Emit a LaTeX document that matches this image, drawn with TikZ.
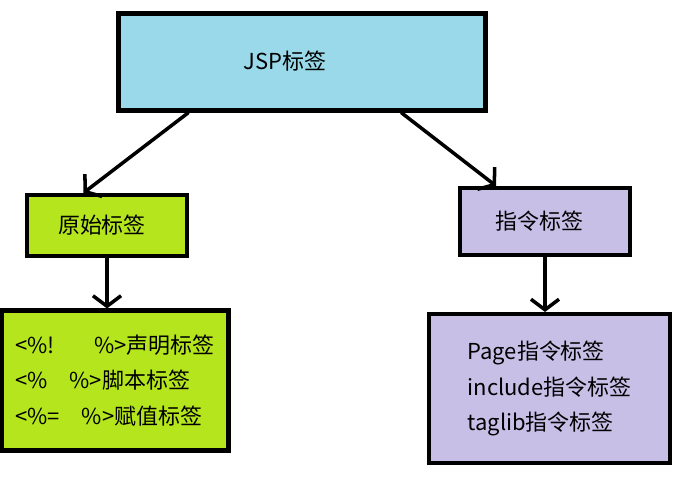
\documentclass[tikz,border=0pt]{standalone}
\usepackage{fontspec}
\setmainfont{Noto Sans CJK SC}
\usetikzlibrary{arrows.meta}
\definecolor{jspblue}{HTML}{99D9EA}
\definecolor{limegrn}{HTML}{B5E61D}
\definecolor{lavend}{HTML}{C8BFE7}
\newlength\pxu
\setlength\pxu{0.02cm}
\begin{document}
\begin{tikzpicture}[x=0.02cm,y=-0.02cm,
  box/.style={draw,line width=2.3pt,inner sep=0pt,font=\fontsize{12.5}{20}\selectfont},
  link/.style={line width=2pt,-{Straight Barb[length=6pt,width=16pt]}}]
\useasboundingbox (0,0) rectangle (674,488);

\node[box,fill=jspblue,minimum width=367\pxu,minimum height=97\pxu] (jsp) at (302,62) {\raisebox{2.5pt}{JSP标签}\kern19pt};

\node[box,fill=limegrn,minimum width=160\pxu,minimum height=61\pxu] (yuan) at (107,225.5) {原始标签\kern5.7pt};
\node[box,fill=lavend,minimum width=170\pxu,minimum height=67\pxu] (zhiling) at (545,221.5) {指令标签\kern6pt};

\node[box,fill=limegrn,minimum width=227\pxu,minimum height=140\pxu,align=left] (decl) at (115,380.5)
  {<\%!\hspace{1.8em}\%>声明标签\\ <\%\hspace{1em}\%>脚本标签\\ <\%=\hspace{1em}\%>赋值标签};
\node[box,fill=lavend,minimum width=241\pxu,minimum height=149\pxu,align=left] (dir) at (549.5,388.5)
  {Page指令标签\\ include指令标签\\ taglib指令标签};

\draw[link] (jsp.204) -- (yuan.126);
\draw[link] (jsp.333) -- (zhiling.144);
\draw[link] (yuan.south) -- (yuan.south |- decl.north);
\draw[link] (zhiling.south) -- (zhiling.south |- dir.north);
\end{tikzpicture}
\end{document}
